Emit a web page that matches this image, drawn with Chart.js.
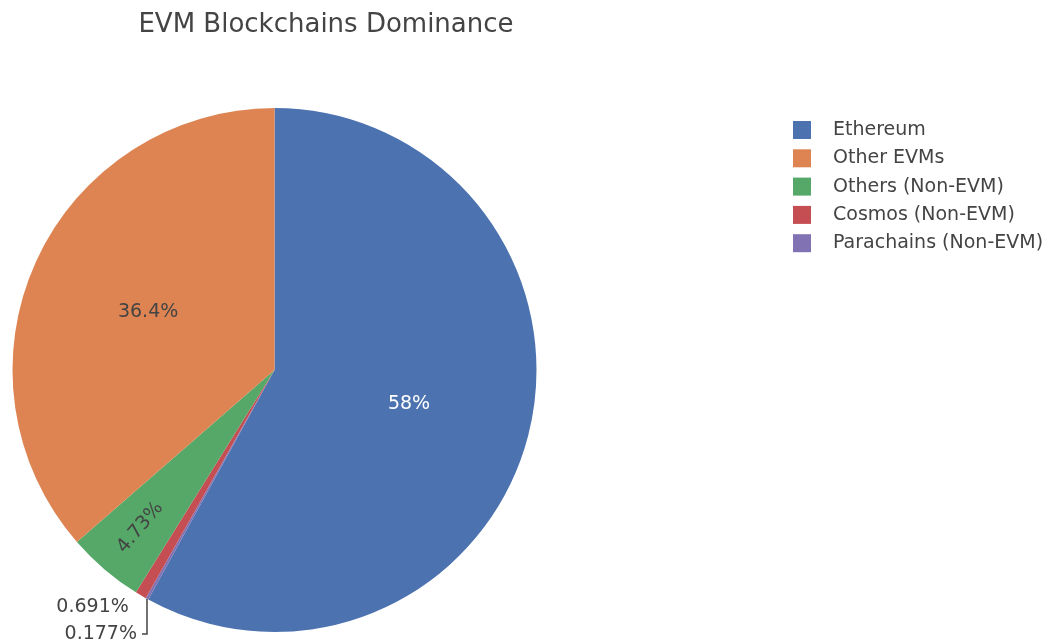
<!DOCTYPE html>
<html>
<head>
<meta charset="utf-8">
<title>EVM Blockchains Dominance</title>
<script src="https://cdn.jsdelivr.net/npm/chart.js@4"></script>
<style>
  body { margin: 0; background: #ffffff; }
  canvas { display: block; }
</style>
</head>
<body>
<canvas id="myChart" width="1048" height="642"></canvas>
<script>
/* DATOS DEL GRAFICO */
const categorias = ["Ethereum", "Other EVMs", "Others (Non-EVM)", "Cosmos (Non-EVM)", "Parachains (Non-EVM)"];
const valores = [58.0, 36.4, 4.73, 0.691, 0.177];
const colores = ["#4c72b0", "#dd8452", "#55a868", "#c44e52", "#8172b3"];
const titulo = "EVM Blockchains Dominance";
// ORDEN EN QUE SE DIBUJAN LAS PORCIONES (SENTIDO HORARIO DESDE ARRIBA)
const ordenPorciones = [0, 4, 3, 2, 1];

const fuente = "'DejaVu Sans', Verdana, sans-serif";
const colorTexto = "#444444";

// FUNCION PARA FORMATEAR EL PORCENTAJE CON 3 CIFRAS SIGNIFICATIVAS
function formatoPorcentaje(valor, total) {
  const p = valor / total * 100;
  return Number(p.toPrecision(3)) + "%";
}

// PLUGIN PARA TITULO, LEYENDA Y ETIQUETAS DE LAS PORCIONES
const pluginTextos = {
  id: "textos",
  afterDraw(chart) {
    const ctx = chart.ctx;
    const total = valores.reduce((a, b) => a + b, 0);
    ctx.save();

    // TITULO
    ctx.fillStyle = colorTexto;
    ctx.font = "26px " + fuente;
    ctx.textAlign = "center";
    ctx.textBaseline = "alphabetic";
    ctx.fillText(titulo, 326, 32);

    // LEYENDA
    ctx.font = "19px " + fuente;
    ctx.textAlign = "left";
    ctx.textBaseline = "middle";
    categorias.forEach((cat, i) => {
      const y = 130 + i * 28.3;
      ctx.fillStyle = colores[i];
      ctx.fillRect(793, y - 9, 18, 18);
      ctx.fillStyle = colorTexto;
      ctx.fillText(cat, 833, y);
    });

    // ETIQUETAS DE LAS PORCIONES
    const arcos = chart.getDatasetMeta(0).data;
    arcos.forEach((arco, j) => {
      const idx = ordenPorciones[j];
      const texto = formatoPorcentaje(valores[idx], total);
      const pct = valores[idx] / total * 100;
      const { x, y, startAngle, endAngle, outerRadius } = arco.getProps(["x", "y", "startAngle", "endAngle", "outerRadius"], true);
      const medio = (startAngle + endAngle) / 2;
      ctx.font = "19px " + fuente;
      if (pct > 10) {
        const r = outerRadius * 0.53;
        ctx.fillStyle = idx === 0 ? "#ffffff" : colorTexto;
        ctx.textAlign = "center";
        ctx.textBaseline = "middle";
        ctx.fillText(texto, x + Math.cos(medio) * r, y + Math.sin(medio) * r);
      } else if (pct > 2) {
        const r = outerRadius * 0.79;
        ctx.save();
        ctx.translate(x + Math.cos(medio) * r, y + Math.sin(medio) * r);
        ctx.rotate(medio + Math.PI);
        ctx.fillStyle = colorTexto;
        ctx.textAlign = "center";
        ctx.textBaseline = "middle";
        ctx.fillText(texto, 0, 0);
        ctx.restore();
      } else {
        // ETIQUETAS FUERA DEL PIE
        const bx = x + Math.cos(medio) * outerRadius;
        const by = y + Math.sin(medio) * outerRadius;
        ctx.fillStyle = colorTexto;
        ctx.textAlign = "right";
        ctx.textBaseline = "middle";
        if (idx === 3) {
          ctx.fillText(texto, bx - 12, by + 12);
        } else {
          const yLinea = by + 35;
          ctx.strokeStyle = colorTexto;
          ctx.lineWidth = 1.5;
          ctx.beginPath();
          ctx.moveTo(bx, by);
          ctx.lineTo(bx, yLinea);
          ctx.lineTo(bx - 5, yLinea);
          ctx.stroke();
          ctx.fillText(texto, bx - 10, yLinea);
        }
      }
    });
    ctx.restore();
  }
};

/* CONFIGURACION Y RENDER */
const chartDOM = document.getElementById("myChart");
const grafico = new Chart(chartDOM, {
  type: "pie",
  data: {
    labels: ordenPorciones.map(i => categorias[i]),
    datasets: [{
      data: ordenPorciones.map(i => valores[i]),
      backgroundColor: ordenPorciones.map(i => colores[i]),
      borderWidth: 0
    }]
  },
  options: {
    responsive: false,
    animation: false,
    layout: { padding: { left: 12, right: 511, top: 108, bottom: 10 } },
    plugins: {
      legend: { display: false },
      tooltip: { enabled: false },
      title: { display: false }
    }
  },
  plugins: [pluginTextos]
});
</script>
</body>
</html>
